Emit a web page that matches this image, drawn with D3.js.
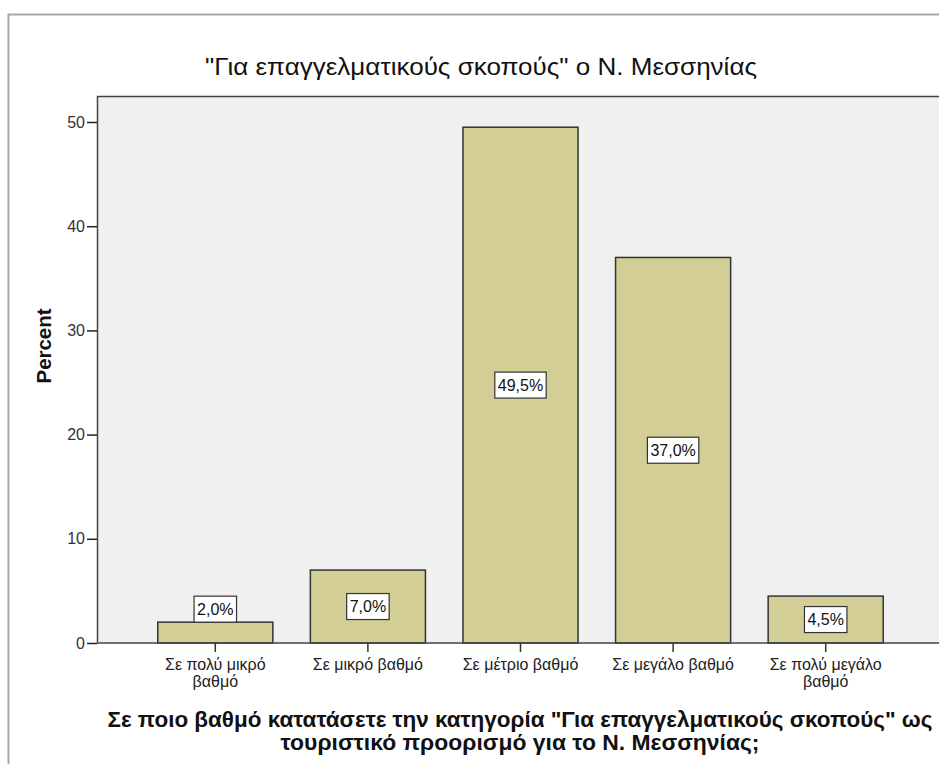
<!DOCTYPE html>
<meta charset="utf-8">
<style>
body { margin: 0; background: #fff; }
text { font-family: "Liberation Sans", Arial, sans-serif; }
.axis path, .axis line { stroke: #222; }
</style>
<svg id="chart" width="939" height="764"></svg>
<script src="https://cdn.jsdelivr.net/npm/d3@7"></script>
<script>
var categories = ["Σε πολύ μικρό βαθμό", "Σε μικρό βαθμό", "Σε μέτριο βαθμό", "Σε μεγάλο βαθμό", "Σε πολύ μεγάλο βαθμό"];
var catLines = [["Σε πολύ μικρό", "βαθμό"], ["Σε μικρό βαθμό"], ["Σε μέτριο βαθμό"], ["Σε μεγάλο βαθμό"], ["Σε πολύ μεγάλο", "βαθμό"]];
var percents = [2.0, 7.0, 49.5, 37.0, 4.5];
var labels = ["2,0%", "7,0%", "49,5%", "37,0%", "4,5%"];
var yTicks = [0, 10, 20, 30, 40, 50];
var title = "\"Για επαγγελματικούς σκοπούς\" ο Ν. Μεσσηνίας";
var xTitle = ["Σε ποιο βαθμό κατατάσετε την κατηγορία \"Για επαγγελματικούς σκοπούς\" ως", "τουριστικό προορισμό για το Ν. Μεσσηνίας;"];

var svg = d3.select("#chart");
var plot = {left: 97, top: 96, right: 945, bottom: 643};

// outer frame
svg.append("path")
    .attr("d", "M8.5,770V14.5H945")
    .attr("fill", "none")
    .attr("stroke", "#a8a8a8")
    .attr("stroke-width", 2);

svg.append("rect")
    .attr("x", plot.left).attr("y", plot.top)
    .attr("width", plot.right - plot.left).attr("height", plot.bottom - plot.top)
    .attr("fill", "#f0f0f0");
svg.append("path")
    .attr("d", "M" + (plot.left + 0.5) + "," + plot.bottom + "V" + (plot.top + 0.5) + "H945")
    .attr("fill", "none").attr("stroke", "#444").attr("stroke-width", 1.5);

var x = d3.scaleBand()
    .domain(categories)
    .range([139, 902])
    .paddingInner(0.246)
    .paddingOuter(0.123);
var y = d3.scaleLinear()
    .domain([0, 50])
    .range([643, 122]);

// bars
svg.selectAll(".bar").data(percents).enter().append("rect")
    .attr("class", "bar")
    .attr("x", function(d, i) { return x(categories[i]); })
    .attr("y", function(d) { return y(d); })
    .attr("width", x.bandwidth())
    .attr("height", function(d) { return y(0) - y(d); })
    .attr("fill", "#d2ce96")
    .attr("stroke", "#333")
    .attr("stroke-width", 1.5);

// y axis
var yAxis = svg.append("g")
    .attr("class", "axis")
    .attr("transform", "translate(" + plot.left + ",0)")
    .call(d3.axisLeft(y).tickValues(yTicks).tickSize(10).tickPadding(2).tickFormat(d3.format("d")));
yAxis.attr("font-size", null).attr("font-family", null);
yAxis.select(".domain").remove();
yAxis.selectAll("text").attr("font-size", 16).attr("fill", "#333");
yAxis.selectAll("line").attr("stroke-width", 1.5);

// x axis
svg.append("line")
    .attr("x1", plot.left).attr("x2", 945)
    .attr("y1", y(0)).attr("y2", y(0))
    .attr("stroke", "#444").attr("stroke-width", 1.5);
var xg = svg.append("g");
categories.forEach(function(c, i) {
  var cx = x(c) + x.bandwidth() / 2;
  xg.append("line")
      .attr("x1", cx).attr("x2", cx)
      .attr("y1", y(0)).attr("y2", y(0) + 9)
      .attr("stroke", "#333").attr("stroke-width", 1.5);
  var t = xg.append("text")
      .attr("x", cx).attr("y", 670)
      .attr("text-anchor", "middle")
      .attr("font-size", 16).attr("fill", "#222");
  catLines[i].forEach(function(l, j) {
    t.append("tspan").attr("x", cx).attr("dy", j == 0 ? 0 : 17).text(l);
  });
});

// value labels
var lab = svg.selectAll(".lab").data(percents).enter().append("g")
    .attr("class", "lab")
    .attr("transform", function(d, i) {
      var cx = x(categories[i]) + x.bandwidth() / 2;
      var cy = (y(d) + y(0)) / 2;
      if (y(0) - y(d) < 26) cy = y(d) - 13;
      if (y(0) - y(d) >= 26 && y(0) - y(d) < 60) cy = Math.max(cy, 609);
      return "translate(" + cx + "," + cy + ")";
    });
lab.append("text")
    .attr("text-anchor", "middle")
    .attr("dy", "0.36em")
    .attr("font-size", 16)
    .attr("fill", "#111")
    .text(function(d, i) { return labels[i]; });
lab.each(function() {
  var g = d3.select(this);
  var b = g.select("text").node().getBBox();
  g.insert("rect", "text")
      .attr("x", b.x - 3).attr("y", -13)
      .attr("width", b.width + 6).attr("height", 26)
      .attr("fill", "#fff").attr("stroke", "#333").attr("stroke-width", 1.2);
});

// titles
svg.append("text")
    .attr("x", 481).attr("y", 75)
    .attr("text-anchor", "middle")
    .attr("font-size", 24)
    .attr("textLength", 552).attr("lengthAdjust", "spacingAndGlyphs")
    .attr("fill", "#111")
    .text(title);

svg.append("text")
    .attr("transform", "translate(51,346) rotate(-90)")
    .attr("text-anchor", "middle")
    .attr("font-size", 20).attr("font-weight", "bold")
    .attr("textLength", 75).attr("lengthAdjust", "spacingAndGlyphs")
    .attr("fill", "#111")
    .text("Percent");

var xt = [{y: 727, w: 825}, {y: 750, w: 479}];
xTitle.forEach(function(l, i) {
  svg.append("text")
      .attr("x", 520).attr("y", xt[i].y)
      .attr("text-anchor", "middle")
      .attr("font-size", 22).attr("font-weight", "bold")
      .attr("textLength", xt[i].w).attr("lengthAdjust", "spacingAndGlyphs")
      .attr("fill", "#111")
      .text(l);
});
</script>
